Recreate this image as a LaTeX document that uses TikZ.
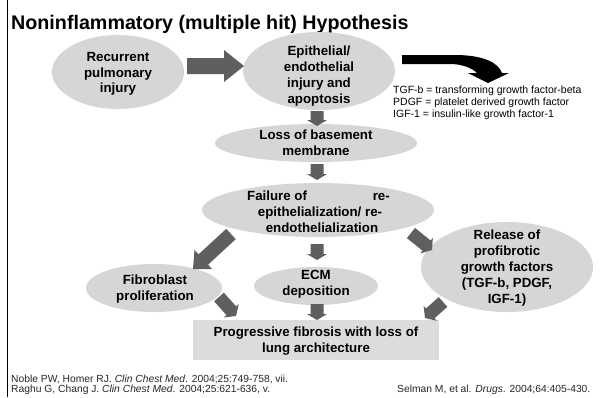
\documentclass[tikz,border=0pt]{standalone}
\usepackage{fontspec}
\setmainfont{Liberation Sans}
\usetikzlibrary{shapes.geometric,calc}
\definecolor{egrey}{RGB}{214,214,214}
\definecolor{bgrey}{RGB}{220,220,220}
\definecolor{agrey}{RGB}{95,95,95}
\newcommand\fatarrow[5]{%
 \path let \p1=(#1), \p2=(#2), \n1={atan2(\y2-\y1,\x2-\x1)}, \n2={veclen(\x2-\x1,\y2-\y1)} in
 [fill=agrey, shift={(\p1)}, rotate=\n1]
 (0pt,#3pt) -- (\n2-#5pt,#3pt) -- (\n2-#5pt,#4pt) -- (\n2,0pt) -- (\n2-#5pt,-#4pt) -- (\n2-#5pt,-#3pt) -- (0pt,-#3pt) -- cycle;}
\tikzset{
 oval/.style={ellipse, fill=egrey, draw=none, inner sep=0pt},
 etext/.style={align=center, font=\bfseries\fontsize{13.3}{15.8}\selectfont, inner sep=0pt},
 legend/.style={anchor=base west, font=\fontsize{10.5}{12}\selectfont, inner sep=0pt},
 foot/.style={font=\fontsize{10.3}{12}\selectfont, inner sep=0pt, text=black!85},
}
\begin{document}
\begin{tikzpicture}[x=1pt,y=-1pt]
\useasboundingbox[fill=white] (0,0) rectangle (602,397);
\draw[line width=0.8pt] (7,0) -- (7,397);
\node[anchor=base west, font=\bfseries\fontsize{19.7}{24}\selectfont, inner sep=0pt] (title) at (11,29) {Noninflammatory (multiple hit) Hypothesis};

% ellipses
\node[oval, minimum width=132pt, minimum height=74pt] (e1) at (118,72) {};
\node[oval, minimum width=152pt, minimum height=78pt] (e2) at (319,71) {};
\node[oval, minimum width=202pt, minimum height=38pt] (loss) at (316,143) {};
\node[oval, minimum width=232pt, minimum height=54pt] (fail) at (318,210) {};
\node[oval, minimum width=136pt, minimum height=48pt] (fib) at (154,288) {};
\node[oval, minimum width=124pt, minimum height=38pt] (ecm) at (316,286) {};
\node[oval, minimum width=172pt, minimum height=90pt] (rel) at (507,267) {};
\node[fill=bgrey, minimum width=246pt, minimum height=40pt, inner sep=0pt] (box) at (316,340) {};

% texts
\node[etext] (e1t) at (118,74) {Recurrent\\pulmonary\\injury};
\node[etext] (e2t) at (319,76) {Epithelial/\\endothelial\\injury and\\apoptosis};
\node[etext] (losst) at (316,143) {Loss of basement\\membrane};
\node[etext, anchor=base west] (failt1) at (247,200) {Failure of};
\node[etext, anchor=base east] (failt2) at (390,200) {re-};
\node[etext, anchor=base] (failt3) at (320,216) {epithelialization/ re-};
\node[etext, anchor=base] (failt4) at (322,232) {endothelialization};
\node[etext] (fibt) at (155,289) {Fibroblast\\proliferation};
\node[etext] (ecmt) at (316,284) {ECM\\deposition};
\node[etext] (relt) at (507,268) {Release of\\profibrotic\\growth factors\\(TGF-b, PDGF,\\IGF-1)};
\node[etext] (boxt) at (316,341) {Progressive fibrosis with loss of\\lung architecture};

% legend
\node[legend] (l1) at (393,93) {TGF-b = transforming growth factor-beta};
\node[legend] (l2) at (393,105) {PDGF = platelet derived growth factor};
\node[legend] (l3) at (393,117) {IGF-1 = insulin-like growth factor-1};

% black curved arrow
\fill[black] (402,55) -- (455,55) .. controls (482,55) and (498,62) .. (502,73) -- (509,73) -- (488,83) -- (468,73) -- (477,73) .. controls (472,68) and (462,64) .. (450,64) -- (402,64) -- cycle;

% grey arrows
\coordinate (a1s) at (187,66); \coordinate (a1e) at (244,66);
\fatarrow{a1s}{a1e}{8}{16}{20}
\coordinate (d1s) at (317,111); \coordinate (d1e) at (317,126);
\fatarrow{d1s}{d1e}{6.5}{10}{6}
\coordinate (d2s) at (317,164); \coordinate (d2e) at (317,180);
\fatarrow{d2s}{d2e}{6.5}{10}{6}
\coordinate (d3s) at (317,244); \coordinate (d3e) at (317,260);
\fatarrow{d3s}{d3e}{6.5}{10}{6}
\coordinate (d4s) at (317,304); \coordinate (d4e) at (317,320);
\fatarrow{d4s}{d4e}{6.5}{10}{6}
\coordinate (lds) at (231,234); \coordinate (lde) at (193,269);
\fatarrow{lds}{lde}{7}{13}{14}
\coordinate (rds) at (411,233); \coordinate (rde) at (432,250);
\fatarrow{rds}{rde}{6.5}{10}{7}
\coordinate (fbs) at (219,297); \coordinate (fbe) at (236,316);
\fatarrow{fbs}{fbe}{6.5}{10}{7}
\coordinate (rbs) at (443,302); \coordinate (rbe) at (425,318);
\fatarrow{rbs}{rbe}{6.5}{10}{7}

% footer
\node[foot, anchor=base west] (f1) at (11,382.5) {Noble PW, Homer RJ. \textit{Clin Chest Med}. 2004;25:749-758, vii.};
\node[foot, anchor=base west] (f2) at (11,392) {Raghu G, Chang J. \textit{Clin Chest Med}. 2004;25:621-636, v.};
\node[foot, anchor=base west] (f3) at (397,392) {Selman M, et al. \textit{Drugs}. 2004;64:405-430.};
\end{tikzpicture}
\end{document}
